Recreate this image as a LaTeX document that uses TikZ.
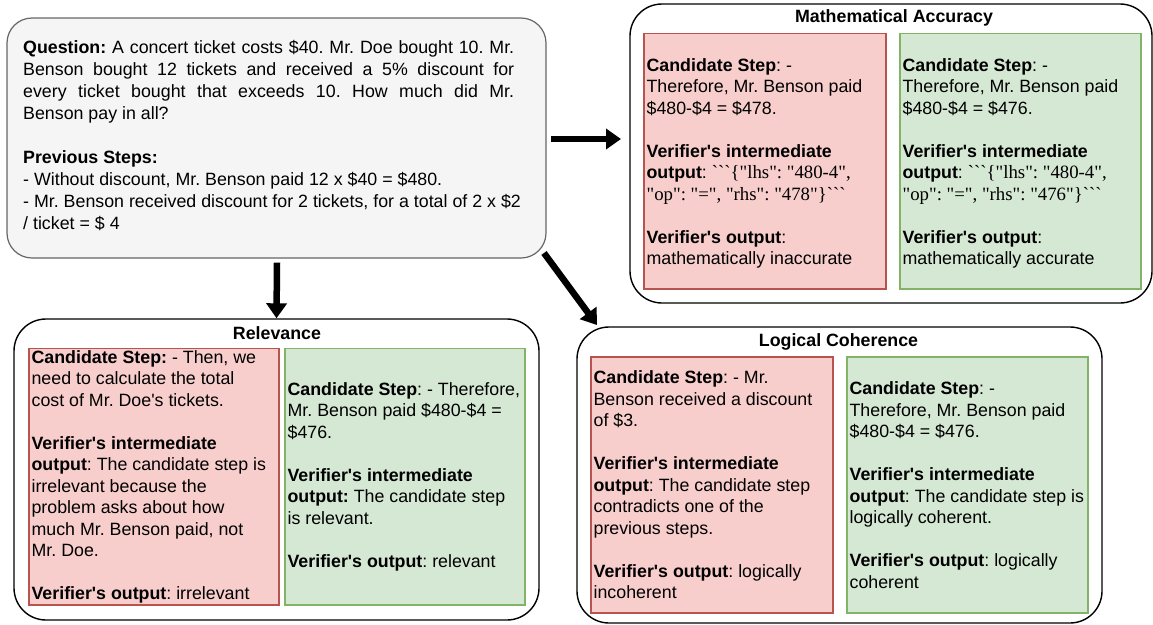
\documentclass[tikz,border=0pt]{standalone}
\usepackage{fontspec}
\newfontfamily\arialf{Liberation Sans}
\newfontfamily\timesf{Liberation Serif}
\usetikzlibrary{arrows.meta,calc}
\definecolor{redfill}{HTML}{F8CECC}
\definecolor{redline}{HTML}{B85450}
\definecolor{greenfill}{HTML}{D5E8D4}
\definecolor{greenline}{HTML}{82B366}
\definecolor{qfill}{HTML}{F5F5F5}
\definecolor{qline}{HTML}{666666}
\frenchspacing
\newcommand\jsontext[1]{{\timesf\fontsize{18.8}{21.5}\selectfont #1}}
\begin{document}
\begin{tikzpicture}[x=1pt,y=-1pt,
  every node/.style={font=\arialf\fontsize{17.8}{21.5}\selectfont},
  container/.style={draw=black, line width=1.4pt, rounded corners=32pt, rectangle, inner sep=0pt},
  qbox/.style={draw=qline, fill=qfill, line width=1.2pt, rounded corners=25pt, rectangle, inner sep=0pt},
  redbox/.style={draw=redline, fill=redfill, line width=1.2pt, rectangle, inner sep=0pt},
  greenbox/.style={draw=greenline, fill=greenfill, line width=1.2pt, rectangle, inner sep=0pt},
  btext/.style={anchor=west, align=left, inner sep=0pt},
  ttl/.style={font=\arialf\bfseries\fontsize{17.8}{21}\selectfont, inner sep=0pt},
  bigarrow/.style={line width=6.5pt, -{Triangle[length=15pt,width=20pt]}}
]
\useasboundingbox (0,0) rectangle (1153,624);
\fill[white] (0,0) rectangle (1153,624);

% question
\node[qbox, minimum width=539pt, minimum height=240pt] (q) at (276.5,138) {};
\node[btext, font=\arialf\fontsize{17.8}{22}\selectfont] (qt) at (23,135.5) {%
\makebox[491pt][s]{\textbf{Question:} A concert ticket costs \$40. Mr. Doe bought 10. Mr.}\\
\makebox[491pt][s]{Benson bought 12 tickets and received a 5\% discount for}\\
\makebox[491pt][s]{every ticket bought that exceeds 10. How much did Mr.}\\
Benson pay in all?\\[22pt]
\textbf{Previous Steps:}\\
- Without discount, Mr. Benson paid 12 x \$40 = \$480.\\
- Mr. Benson received discount for 2 tickets, for a total of 2 x \$2\\
/ ticket = \$ 4};

% containers
\node[container, minimum width=522pt, minimum height=299pt] (math) at (891,153.5) {};
\node[container, minimum width=525pt, minimum height=301pt] (rel) at (276.5,469.5) {};
\node[container, minimum width=525pt, minimum height=296pt] (log) at (839.5,475) {};

\node[ttl] (matht) at (894,18) {Mathematical Accuracy};
\node[ttl] (relt) at (277,333.5) {Relevance};
\node[ttl] (logt) at (838.5,341.5) {Logical Coherence};

% mathematical accuracy
\node[redbox, minimum width=242pt, minimum height=255.5pt] (mr) at (765,161.25) {};
\node[greenbox, minimum width=241pt, minimum height=255.5pt] (mg) at (1020.5,161.25) {};
\node[btext] (mrt) at ($(mr.west)+(3,2)$) {%
\textbf{Candidate Step}: -\\
Therefore, Mr. Benson paid\\
\$480-\$4 = \$478.\\[21.5pt]
\textbf{Verifier's intermediate}\\
\textbf{output}: \jsontext{```\{"lhs": "480-4",}\\
\jsontext{"op": "=", "rhs": "478"\}```}\\[21.5pt]
\textbf{Verifier's output}:\\
mathematically inaccurate};
\node[btext] (mgt) at ($(mg.west)+(3,2)$) {%
\textbf{Candidate Step}: -\\
Therefore, Mr. Benson paid\\
\$480-\$4 = \$476.\\[21.5pt]
\textbf{Verifier's intermediate}\\
\textbf{output}: \jsontext{```\{"lhs": "480-4",}\\
\jsontext{"op": "=", "rhs": "476"\}```}\\[21.5pt]
\textbf{Verifier's output}:\\
mathematically accurate};

% relevance
\node[redbox, minimum width=250pt, minimum height=256.5pt] (rr) at (154,476.75) {};
\node[greenbox, minimum width=240pt, minimum height=256.5pt] (rg) at (405,476.75) {};
\node[btext] (rrt) at ($(rr.west)+(3,0)$) {%
\textbf{Candidate Step:} - Then, we\\
need to calculate the total\\
cost of Mr. Doe's tickets.\\[21.5pt]
\textbf{Verifier's intermediate}\\
\textbf{output}: The candidate step is\\
irrelevant because the\\
problem asks about how\\
much Mr. Benson paid, not\\
Mr. Doe.\\[21.5pt]
\textbf{Verifier's output}: irrelevant};
\node[btext] (rgt) at ($(rg.west)+(3,0)$) {%
\textbf{Candidate Step}: - Therefore,\\
Mr. Benson paid \$480-\$4 =\\
\$476.\\[21.5pt]
\textbf{Verifier's intermediate}\\
\textbf{output:} The candidate step\\
is relevant.\\[21.5pt]
\textbf{Verifier's output}: relevant};

% logical coherence
\node[redbox, minimum width=242pt, minimum height=256pt] (lr) at (712,485) {};
\node[greenbox, minimum width=241pt, minimum height=256pt] (lg) at (967.5,485) {};
\node[btext] (lrt) at ($(lr.west)+(3,0)$) {%
\textbf{Candidate Step}: - Mr.\\
Benson received a discount\\
of \$3.\\[21.5pt]
\textbf{Verifier's intermediate}\\
\textbf{output}: The candidate step\\
contradicts one of the\\
previous steps.\\[21.5pt]
\textbf{Verifier's output}: logically\\
incoherent};
\node[btext] (lgt) at ($(lg.west)+(3,0)$) {%
\textbf{Candidate Step}: -\\
Therefore, Mr. Benson paid\\
\$480-\$4 = \$476.\\[21.5pt]
\textbf{Verifier's intermediate}\\
\textbf{output}: The candidate step is\\
logically coherent.\\[21.5pt]
\textbf{Verifier's output}: logically\\
coherent};

% arrows
\coordinate (a1s) at (551,139);
\coordinate (a1e) at (621,139);
\draw[bigarrow] (a1s) -- (a1e);
\draw[bigarrow] ($(q.south)+(0.5,4)$) -- (q.south |- rel.north);
\coordinate (a3s) at (544,253);
\coordinate (a3e) at (597,325);
\draw[bigarrow] (a3s) -- (a3e);
\end{tikzpicture}
\end{document}
